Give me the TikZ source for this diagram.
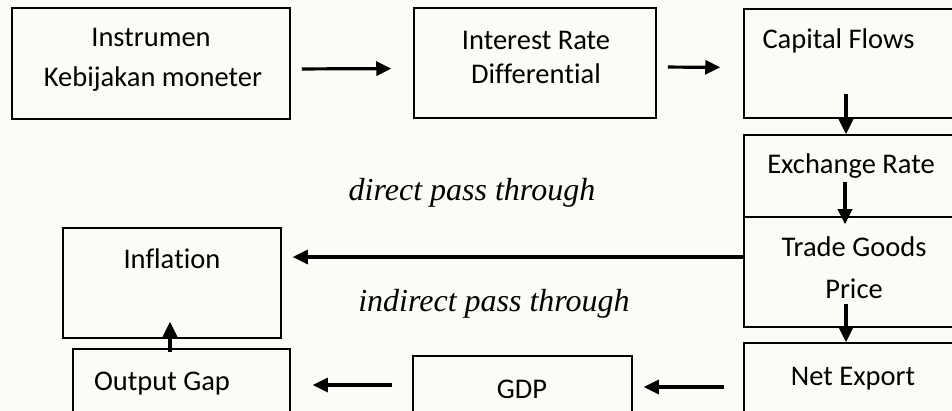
\documentclass[tikz,border=0pt]{standalone}
\usepackage{fontspec}
\setmainfont{Carlito}[Ligatures={NoCommon,NoRare}]
\newfontfamily\serifit{Liberation Serif}
\usetikzlibrary{arrows.meta}
\definecolor{bgc}{RGB}{252,252,247}
\begin{document}
\begin{tikzpicture}[x=1pt,y=-1pt,
  box/.style={draw, line width=1.5pt, rectangle, inner sep=0pt},
  lbl/.style={font=\fontsize{28.5}{34}\selectfont, inner sep=0pt, anchor=base},
  itl/.style={font=\serifit\itshape\fontsize{32}{38}\selectfont, inner sep=0pt, anchor=base},
  arr/.style={line width=3.2pt, -{Triangle[length=15pt,width=14pt]}}]
\fill[bgc] (0,0) rectangle (952,411);
\clip (0,0) rectangle (952,411);
% boxes
\node[box, minimum width=278pt, minimum height=111pt] (b1) at (151,63.5) {};
\node[box, minimum width=242pt, minimum height=110pt] (b2) at (535,63) {};
\node[box, minimum width=218pt, minimum height=109pt] (b3) at (853,63.5) {};
\node[box, minimum width=218pt, minimum height=82pt] (b4) at (853,176) {};
\node[box, minimum width=218pt, minimum height=110pt] (b5) at (853,272) {};
\node[box, minimum width=218pt, minimum height=110pt] (b6) at (853,398) {};
\node[box, minimum width=219pt, minimum height=110pt] (b7) at (522.5,411) {};
\node[box, minimum width=217pt, minimum height=110pt] (b8) at (181.5,404) {};
\node[box, minimum width=218pt, minimum height=110pt] (b9) at (172,283) {};
% labels
\node[lbl] (t1a) at (151,46.5) {Instrumen};
\node[lbl] (t1b) at (153,86.5) {Kebijakan moneter};
\node[lbl] (t2a) at (536,50) {Interest Rate};
\node[lbl] (t2b) at (536,84) {Differen\kern0pt tial};
\node[lbl] (t3) at (838.5,49) {Capital Flows};
\node[lbl] (t4) at (851,173.5) {Exchange Rate};
\node[lbl] (t5a) at (854,256.5) {Trade Goods};
\node[lbl] (t5b) at (854,298.5) {Price};
\node[lbl] (t6) at (853,385) {Net Export};
\node[lbl] (t7) at (522,398) {GDP};
\node[lbl] (t8) at (162,390) {Output Gap};
\node[lbl] (t9) at (172,269) {Infla\kern0pt tion};
\node[itl] (d1) at (472,201) {direct pass through};
\node[itl] (d2) at (494,312) {indirect pass through};
% connectors
\draw[arr, shorten <=11pt, shorten >=22pt] ([yshift=-5.5pt]b1.east) -- ([yshift=-5.5pt]b2.west);
\draw[arr, shorten <=11pt, shorten >=23pt] ([yshift=-4pt]b2.east) -- ([yshift=-4pt]b3.west);
\draw[arr] ([xshift=-7pt,yshift=25pt]b3.south) -- ([xshift=-7pt]b4.north);
\draw[arr] ([xshift=-8pt,yshift=34pt]b5.north) -- ([xshift=-8pt,yshift=-8pt]b5.north);
\draw[arr] ([xshift=-7pt,yshift=24pt]b5.south) -- ([xshift=-7pt]b6.north);
\draw[arr, shorten >=11pt] ([yshift=15pt]b5.west) -- ([yshift=26pt]b9.east);
\draw[arr, shorten <=19pt, shorten >=11pt] ([yshift=11pt]b6.west) -- ([yshift=11pt]b6.west -| b7.east);
\draw[arr, shorten <=20pt, shorten >=22pt] ([yshift=26pt]b7.west) -- ([yshift=26pt]b7.west -| b8.east);
\draw[arr] ([xshift=-11.5pt,yshift=-4pt]b8.north) -- ([xshift=-2pt,yshift=17pt]b9.south);
\end{tikzpicture}
\end{document}
